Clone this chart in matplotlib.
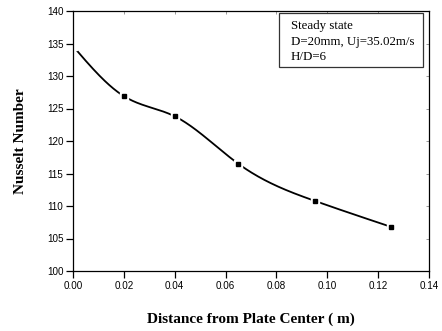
import numpy as np
import matplotlib
matplotlib.use("Agg")
import matplotlib.pyplot as plt

# Data
distance = [0.0, 0.02, 0.04, 0.065, 0.095, 0.125]
nusselt = [134.6, 126.9, 123.8, 116.5, 110.8, 106.8]
x_ticks = [0.00, 0.02, 0.04, 0.06, 0.08, 0.10, 0.12, 0.14]
y_ticks = [100, 105, 110, 115, 120, 125, 130, 135, 140]
legend_lines = ["Steady state", "D=20mm, Uj=35.02m/s", "H/D=6"]


def natural_spline(x, y, n=300):
    x = np.asarray(x, float)
    y = np.asarray(y, float)
    m = len(x)
    h = np.diff(x)
    A = np.zeros((m, m))
    b = np.zeros(m)
    A[0, 0] = 1
    A[-1, -1] = 1
    for i in range(1, m - 1):
        A[i, i - 1] = h[i - 1]
        A[i, i] = 2 * (h[i - 1] + h[i])
        A[i, i + 1] = h[i]
        b[i] = 3 * ((y[i + 1] - y[i]) / h[i] - (y[i] - y[i - 1]) / h[i - 1])
    c = np.linalg.solve(A, b)
    xs = np.linspace(x[0], x[-1], n)
    ys = np.empty_like(xs)
    for k, xv in enumerate(xs):
        i = min(np.searchsorted(x, xv, side="right") - 1, m - 2)
        dx = xv - x[i]
        bb = (y[i + 1] - y[i]) / h[i] - h[i] * (2 * c[i] + c[i + 1]) / 3
        d = (c[i + 1] - c[i]) / (3 * h[i])
        ys[k] = y[i] + bb * dx + c[i] * dx ** 2 + d * dx ** 3
    return xs, ys


fig = plt.figure(figsize=(4.42, 3.31), dpi=100)
ax = fig.add_axes([73 / 442, 1 - 271 / 331, (429 - 73) / 442, (271 - 11) / 331])

xs, ys = natural_spline(distance, nusselt)
ax.plot(xs, ys, color="black", lw=1.3, zorder=2)
ax.plot(distance, nusselt, ls="none", marker="s", ms=6.3, mfc="white", mec="white", zorder=2.2)
ax.plot(distance[1:], nusselt[1:], ls="none", marker="s", ms=3.0, mfc="black", mec="black", zorder=4)

ax.set_xlim(0, 0.14)
ax.set_ylim(100, 140)
ax.set_xticks(x_ticks)
ax.set_yticks(y_ticks)
ax.set_xticklabels([f"{v:.2f}" for v in x_ticks])
ax.set_yticklabels([str(v) for v in y_ticks])
ax.tick_params(direction="out", length=5, width=0.9, labelsize=7.1, pad=2)
for lab in ax.get_xticklabels() + ax.get_yticklabels():
    lab.set_family("Liberation Sans")

for s in ax.spines.values():
    s.set_linewidth(0.9)

# mirror ticks (inward, faint) on top and right
axt = ax.secondary_xaxis("top")
axt.set_xticks(x_ticks)
axt.tick_params(direction="in", length=2, width=0.6, colors="#888888", labeltop=False)
axt.spines["top"].set_visible(False)
axr = ax.secondary_yaxis("right")
axr.set_yticks(y_ticks)
axr.tick_params(direction="in", length=2, width=0.6, colors="#888888", labelright=False)
axr.spines["right"].set_visible(False)

ax.set_xlabel("Distance from Plate Center ( m)", family="Liberation Serif",
              fontweight="bold", fontsize=11, labelpad=16)
ax.set_ylabel("Nusselt Number", family="Liberation Serif",
              fontweight="bold", fontsize=11, labelpad=14)

# legend-like text box
bx0, by0, bx1, by1 = 279, 13, 423, 67
fig.patches.append(plt.Rectangle((bx0 / 442, 1 - by1 / 331), (bx1 - bx0) / 442, (by1 - by0) / 331,
                                 transform=fig.transFigure, fill=True, facecolor="white",
                                 edgecolor="#333333", lw=0.9, zorder=5))
for i, t in enumerate(legend_lines):
    fig.text(291 / 442, 1 - (26 + 15.5 * i) / 331, t, family="Liberation Serif",
             fontsize=9.3, va="center", ha="left", zorder=6)

fig.savefig("out.png", dpi=100)
